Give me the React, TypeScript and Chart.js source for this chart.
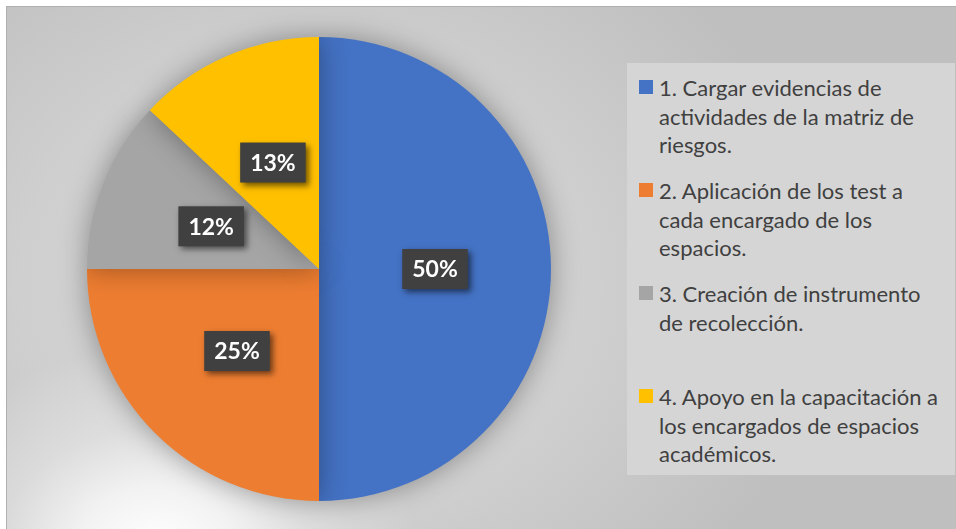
import React, { useEffect, useRef } from "react";
import { Chart, registerables } from "chart.js";

Chart.register(...registerables);

const categories: string[][] = [
  ["1. Cargar evidencias de", "actividades de la matriz de", "riesgos."],
  ["2. Aplicación de los test a", "cada encargado de los", "espacios."],
  ["3. Creación de instrumento", "de recolección."],
  ["4. Apoyo en la capacitación a", "los encargados de espacios", "académicos."],
];
const values: number[] = [50, 25, 12, 13];
const percentLabels: string[] = ["50%", "25%", "12%", "13%"];
const colors: string[] = ["#4472C4", "#ED7D31", "#A5A5A5", "#FFC000"];

const CANVAS = 560;
const PAD = 48;

const shadowPlugin = {
  id: "pieShadow",
  beforeDatasetsDraw(chart: any) {
    const ctx = chart.ctx;
    ctx.save();
    ctx.shadowColor = "rgba(0,0,0,0.35)";
    ctx.shadowBlur = 28;
    ctx.shadowOffsetX = 0;
    ctx.shadowOffsetY = 0;
  },
  afterDatasetsDraw(chart: any) {
    chart.ctx.restore();
  },
};

const labelPlugin = {
  id: "boxLabels",
  afterDatasetsDraw(chart: any) {
    const ctx = chart.ctx;
    const meta = chart.getDatasetMeta(0);
    ctx.save();
    ctx.font = "bold 23px Lato, 'Open Sans', sans-serif";
    ctx.textAlign = "center";
    ctx.textBaseline = "middle";
    meta.data.forEach((arc: any, i: number) => {
      const p = arc.tooltipPosition();
      const text = percentLabels[i];
      const w = ctx.measureText(text).width + 20;
      const h = 40;
      ctx.save();
      ctx.shadowColor = "rgba(0,0,0,0.55)";
      ctx.shadowBlur = 6;
      ctx.shadowOffsetX = 3;
      ctx.shadowOffsetY = 3;
      ctx.fillStyle = "#404040";
      ctx.fillRect(p.x - w / 2, p.y - h / 2, w, h);
      ctx.restore();
      ctx.fillStyle = "#ffffff";
      ctx.fillText(text, p.x, p.y + 1);
    });
    ctx.restore();
  },
};

export default function App() {
  const ref = useRef<HTMLCanvasElement | null>(null);

  useEffect(() => {
    if (!ref.current) return;
    const chart = new Chart(ref.current, {
      type: "pie",
      data: {
        labels: categories,
        datasets: [
          {
            data: values,
            backgroundColor: colors,
            borderWidth: 0,
          },
        ],
      },
      options: {
        animation: false,
        responsive: false,
        maintainAspectRatio: false,
        layout: { padding: PAD },
        plugins: {
          legend: { display: false },
          tooltip: { enabled: false },
        },
      },
      plugins: [shadowPlugin, labelPlugin],
    });
    return () => chart.destroy();
  }, []);

  const cx = 319;
  const cy = 268.5;

  return (
    <div
      style={{
        position: "fixed",
        left: 0,
        top: 0,
        width: 956,
        height: 529,
        background: "#ffffff",
        overflow: "hidden",
      }}
    >
      <div
        style={{
          position: "absolute",
          left: 6,
          top: 6,
          width: 956,
          height: 529,
          borderLeft: "1px solid #b0b0b0",
          borderTop: "1px solid #b0b0b0",
          background:
            "radial-gradient(ellipse 260px 200px at 150px 540px, #ffffff 0%, #f2f2f2 30%, rgba(230,230,230,0.6) 60%, rgba(220,220,220,0) 100%), radial-gradient(ellipse 520px 420px at 300px 280px, #d6d6d6 0%, #cfcfcf 55%, rgba(191,191,191,0) 100%), #bfbfbf",
        }}
      />
      <canvas
        ref={ref}
        width={CANVAS}
        height={CANVAS}
        style={{
          position: "absolute",
          left: cx - CANVAS / 2,
          top: cy - CANVAS / 2,
          width: CANVAS,
          height: CANVAS,
        }}
      />
      <div
        style={{
          position: "absolute",
          left: 627,
          top: 63,
          width: 328,
          height: 412,
          background: "#d5d5d5",
          fontFamily: "Lato, 'Open Sans', sans-serif",
          fontSize: 22,
          color: "#404040",
        }}
      >
        {categories.map((lines, i) => {
          const tops = [11, 114, 217, 320];
          return (
            <div
              key={i}
              style={{ position: "absolute", left: 12, top: tops[i], lineHeight: "28.7px" }}
            >
              <span
                style={{
                  position: "absolute",
                  left: 0,
                  top: 6,
                  width: 14,
                  height: 14,
                  background: colors[i],
                }}
              />
              <div style={{ marginLeft: 20, whiteSpace: "nowrap" }}>
                {lines.map((l, j) => (
                  <div key={j}>{l}</div>
                ))}
              </div>
            </div>
          );
        })}
      </div>
    </div>
  );
}
